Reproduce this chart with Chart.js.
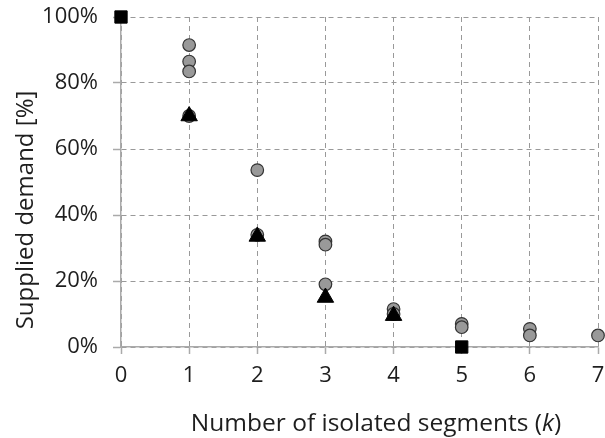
<!DOCTYPE html>
<html><head><meta charset="utf-8">
<script src="https://cdn.jsdelivr.net/npm/chart.js@4/dist/chart.umd.min.js"></script>
<style>html,body{margin:0;padding:0;background:#fff}#c{display:block}</style>
</head><body>
<canvas id="c" width="605" height="438"></canvas>
<script>
const circleK = [1, 1, 1, 1, 2, 2, 3, 3, 3, 4, 4, 5, 5, 6, 6, 7];
const circleVal = [91.5, 86.5, 83.5, 70, 53.6, 34, 32, 31, 19, 11.5, 10, 7, 6, 5.5, 3.5, 3.5];
const triangleK = [1, 2, 3, 4];
const triangleVal = [70, 33.5, 15, 9.5];
const squareK = [0, 5];
const squareVal = [100, 0];
const xTicks = [0, 1, 2, 3, 4, 5, 6, 7];
const yTicks = [0, 20, 40, 60, 80, 100];
const xTitleParts = ['Number of isolated segments (', 'k', ')'];
const yTitle = 'Supplied demand [%]';

const pts = (xs, ys) => xs.map((x, i) => ({x: x, y: ys[i]}));
const FONT = '"Open Sans", Lato, sans-serif';
const TXT = '#1e1e1e';

const titles = {
  id: 'titles',
  afterDraw(chart) {
    const ctx = chart.ctx;
    ctx.save();
    ctx.fillStyle = TXT;
    ctx.textBaseline = 'alphabetic';
    const normal = '24.5px ' + FONT;
    const italic = 'italic 24.5px ' + FONT;
    const fonts = [normal, italic, normal];
    const widths = xTitleParts.map((t, i) => { ctx.font = fonts[i]; return ctx.measureText(t).width; });
    const total = widths.reduce((a, b) => a + b, 0);
    let x = 376 - total / 2;
    ctx.textAlign = 'left';
    xTitleParts.forEach((t, i) => { ctx.font = fonts[i]; ctx.fillText(t, x, 431); x += widths[i]; });
    ctx.translate(26, 210);
    ctx.rotate(-Math.PI / 2);
    ctx.font = '24px ' + FONT;
    ctx.textAlign = 'center';
    ctx.textBaseline = 'middle';
    ctx.fillText(yTitle, 0, 0);
    ctx.restore();
  }
};

new Chart(document.getElementById('c'), {
  type: 'scatter',
  data: {
    datasets: [
      {label: 'square', data: pts(squareK, squareVal), pointStyle: 'rect', pointRadius: 8.7, backgroundColor: '#000', borderColor: '#000', borderWidth: 1, clip: false},
      {label: 'triangle', data: pts(triangleK, triangleVal), pointStyle: 'triangle', pointRadius: 9.5, backgroundColor: '#000', borderColor: '#000', borderWidth: 1, clip: false},
      {label: 'circle', data: pts(circleK, circleVal), pointStyle: 'circle', pointRadius: 6.3, backgroundColor: '#999', borderColor: '#333', borderWidth: 1.2, clip: false}
    ]
  },
  options: {
    responsive: false,
    animation: false,
    layout: {autoPadding: false, padding: {top: 17, right: 7, left: 0, bottom: 0}},
    plugins: {legend: {display: false}, tooltip: {enabled: false}},
    scales: {
      x: {
        type: 'linear', min: 0, max: 7,
        afterBuildTicks: a => { a.ticks = xTicks.map(v => ({value: v})); },
        afterFit: a => { a.height = 91; a.paddingLeft = 0; a.paddingRight = 0; },
        grid: {color: '#999', lineWidth: 1, tickLength: 7, tickColor: '#aaa', tickBorderDash: [], tickWidth: 1.5},
        border: {display: true, color: '#aaa', width: 1.5, dash: [5, 4]},
        ticks: {color: TXT, font: {family: FONT, size: 22}, padding: 9},
        title: {display: false}
      },
      y: {
        type: 'linear', min: 0, max: 100,
        afterBuildTicks: a => { a.ticks = yTicks.map(v => ({value: v})); },
        afterFit: a => { a.width = 121; a.paddingTop = 0; a.paddingBottom = 0; },
        grid: {color: '#999', lineWidth: 1, tickLength: 8, tickColor: '#aaa', tickBorderDash: [], tickWidth: 1.5},
        border: {display: true, color: '#aaa', width: 1.5, dash: [5, 4]},
        ticks: {color: TXT, font: {family: FONT, size: 22}, padding: 15, callback: v => v + '%'},
        title: {display: false}
      }
    }
  },
  plugins: [titles]
});
</script>
</body></html>
